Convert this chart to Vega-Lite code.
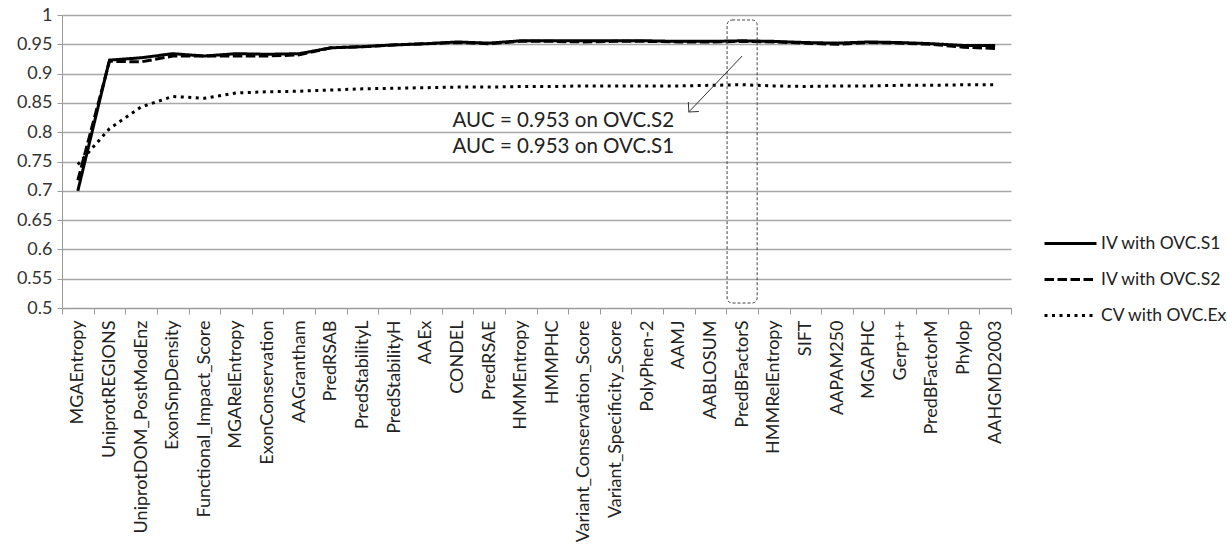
{
  "$schema": "https://vega.github.io/schema/vega-lite/v6.json",
  "width": 949,
  "height": 293,
  "autosize": {"type": "none"},
  "padding": {"left": 62, "top": 15, "right": 216, "bottom": 244},
  "background": "white",
  "config": {
    "view": {"stroke": null},
    "font": "Lato",
    "axis": {"labelFont": "Lato", "labelColor": "#222", "titleColor": "#222"},
    "axisY": {"labelOverlap": false, "grid": true, "gridColor": "#a8a8a8", "gridWidth": 1.3, "labelFontSize": 18, "labelColor": "#333", "labelPadding": 5, "tickSize": 5, "tickColor": "#9a9a9a", "domainColor": "#9a9a9a"},
    "legend": {"labelFont": "Lato", "labelColor": "#222"}
  },
  "datasets": {
    "lines": [
      {"feature": "MGAEntropy", "series": "IV with OVC.S1", "auc": 0.700},
      {"feature": "UniprotREGIONS", "series": "IV with OVC.S1", "auc": 0.923},
      {"feature": "UniprotDOM_PostModEnz", "series": "IV with OVC.S1", "auc": 0.927},
      {"feature": "ExonSnpDensity", "series": "IV with OVC.S1", "auc": 0.934},
      {"feature": "Functional_Impact_Score", "series": "IV with OVC.S1", "auc": 0.930},
      {"feature": "MGARelEntropy", "series": "IV with OVC.S1", "auc": 0.934},
      {"feature": "ExonConservation", "series": "IV with OVC.S1", "auc": 0.933},
      {"feature": "AAGrantham", "series": "IV with OVC.S1", "auc": 0.934},
      {"feature": "PredRSAB", "series": "IV with OVC.S1", "auc": 0.944},
      {"feature": "PredStabilityL", "series": "IV with OVC.S1", "auc": 0.946},
      {"feature": "PredStabilityH", "series": "IV with OVC.S1", "auc": 0.949},
      {"feature": "AAEx", "series": "IV with OVC.S1", "auc": 0.951},
      {"feature": "CONDEL", "series": "IV with OVC.S1", "auc": 0.954},
      {"feature": "PredRSAE", "series": "IV with OVC.S1", "auc": 0.952},
      {"feature": "HMMEntropy", "series": "IV with OVC.S1", "auc": 0.956},
      {"feature": "HMMPHC", "series": "IV with OVC.S1", "auc": 0.956},
      {"feature": "Variant_Conservation_Score", "series": "IV with OVC.S1", "auc": 0.956},
      {"feature": "Variant_Specificity_Score", "series": "IV with OVC.S1", "auc": 0.956},
      {"feature": "PolyPhen-2", "series": "IV with OVC.S1", "auc": 0.956},
      {"feature": "AAMJ", "series": "IV with OVC.S1", "auc": 0.955},
      {"feature": "AABLOSUM", "series": "IV with OVC.S1", "auc": 0.955},
      {"feature": "PredBFactorS", "series": "IV with OVC.S1", "auc": 0.956},
      {"feature": "HMMRelEntropy", "series": "IV with OVC.S1", "auc": 0.955},
      {"feature": "SIFT", "series": "IV with OVC.S1", "auc": 0.953},
      {"feature": "AAPAM250", "series": "IV with OVC.S1", "auc": 0.952},
      {"feature": "MGAPHC", "series": "IV with OVC.S1", "auc": 0.954},
      {"feature": "Gerp++", "series": "IV with OVC.S1", "auc": 0.953},
      {"feature": "PredBFactorM", "series": "IV with OVC.S1", "auc": 0.951},
      {"feature": "Phylop", "series": "IV with OVC.S1", "auc": 0.948},
      {"feature": "AAHGMD2003", "series": "IV with OVC.S1", "auc": 0.948},
      {"feature": "MGAEntropy", "series": "IV with OVC.S2", "auc": 0.718},
      {"feature": "UniprotREGIONS", "series": "IV with OVC.S2", "auc": 0.921},
      {"feature": "UniprotDOM_PostModEnz", "series": "IV with OVC.S2", "auc": 0.920},
      {"feature": "ExonSnpDensity", "series": "IV with OVC.S2", "auc": 0.930},
      {"feature": "Functional_Impact_Score", "series": "IV with OVC.S2", "auc": 0.930},
      {"feature": "MGARelEntropy", "series": "IV with OVC.S2", "auc": 0.930},
      {"feature": "ExonConservation", "series": "IV with OVC.S2", "auc": 0.930},
      {"feature": "AAGrantham", "series": "IV with OVC.S2", "auc": 0.932},
      {"feature": "PredRSAB", "series": "IV with OVC.S2", "auc": 0.944},
      {"feature": "PredStabilityL", "series": "IV with OVC.S2", "auc": 0.946},
      {"feature": "PredStabilityH", "series": "IV with OVC.S2", "auc": 0.949},
      {"feature": "AAEx", "series": "IV with OVC.S2", "auc": 0.951},
      {"feature": "CONDEL", "series": "IV with OVC.S2", "auc": 0.953},
      {"feature": "PredRSAE", "series": "IV with OVC.S2", "auc": 0.951},
      {"feature": "HMMEntropy", "series": "IV with OVC.S2", "auc": 0.955},
      {"feature": "HMMPHC", "series": "IV with OVC.S2", "auc": 0.955},
      {"feature": "Variant_Conservation_Score", "series": "IV with OVC.S2", "auc": 0.954},
      {"feature": "Variant_Specificity_Score", "series": "IV with OVC.S2", "auc": 0.955},
      {"feature": "PolyPhen-2", "series": "IV with OVC.S2", "auc": 0.955},
      {"feature": "AAMJ", "series": "IV with OVC.S2", "auc": 0.954},
      {"feature": "AABLOSUM", "series": "IV with OVC.S2", "auc": 0.954},
      {"feature": "PredBFactorS", "series": "IV with OVC.S2", "auc": 0.955},
      {"feature": "HMMRelEntropy", "series": "IV with OVC.S2", "auc": 0.954},
      {"feature": "SIFT", "series": "IV with OVC.S2", "auc": 0.952},
      {"feature": "AAPAM250", "series": "IV with OVC.S2", "auc": 0.950},
      {"feature": "MGAPHC", "series": "IV with OVC.S2", "auc": 0.953},
      {"feature": "Gerp++", "series": "IV with OVC.S2", "auc": 0.952},
      {"feature": "PredBFactorM", "series": "IV with OVC.S2", "auc": 0.950},
      {"feature": "Phylop", "series": "IV with OVC.S2", "auc": 0.945},
      {"feature": "AAHGMD2003", "series": "IV with OVC.S2", "auc": 0.943},
      {"feature": "MGAEntropy", "series": "CV with OVC.Ex", "auc": 0.745},
      {"feature": "UniprotREGIONS", "series": "CV with OVC.Ex", "auc": 0.806},
      {"feature": "UniprotDOM_PostModEnz", "series": "CV with OVC.Ex", "auc": 0.843},
      {"feature": "ExonSnpDensity", "series": "CV with OVC.Ex", "auc": 0.861},
      {"feature": "Functional_Impact_Score", "series": "CV with OVC.Ex", "auc": 0.858},
      {"feature": "MGARelEntropy", "series": "CV with OVC.Ex", "auc": 0.867},
      {"feature": "ExonConservation", "series": "CV with OVC.Ex", "auc": 0.869},
      {"feature": "AAGrantham", "series": "CV with OVC.Ex", "auc": 0.870},
      {"feature": "PredRSAB", "series": "CV with OVC.Ex", "auc": 0.872},
      {"feature": "PredStabilityL", "series": "CV with OVC.Ex", "auc": 0.874},
      {"feature": "PredStabilityH", "series": "CV with OVC.Ex", "auc": 0.875},
      {"feature": "AAEx", "series": "CV with OVC.Ex", "auc": 0.876},
      {"feature": "CONDEL", "series": "CV with OVC.Ex", "auc": 0.877},
      {"feature": "PredRSAE", "series": "CV with OVC.Ex", "auc": 0.877},
      {"feature": "HMMEntropy", "series": "CV with OVC.Ex", "auc": 0.878},
      {"feature": "HMMPHC", "series": "CV with OVC.Ex", "auc": 0.878},
      {"feature": "Variant_Conservation_Score", "series": "CV with OVC.Ex", "auc": 0.879},
      {"feature": "Variant_Specificity_Score", "series": "CV with OVC.Ex", "auc": 0.879},
      {"feature": "PolyPhen-2", "series": "CV with OVC.Ex", "auc": 0.879},
      {"feature": "AAMJ", "series": "CV with OVC.Ex", "auc": 0.879},
      {"feature": "AABLOSUM", "series": "CV with OVC.Ex", "auc": 0.880},
      {"feature": "PredBFactorS", "series": "CV with OVC.Ex", "auc": 0.881},
      {"feature": "HMMRelEntropy", "series": "CV with OVC.Ex", "auc": 0.879},
      {"feature": "SIFT", "series": "CV with OVC.Ex", "auc": 0.878},
      {"feature": "AAPAM250", "series": "CV with OVC.Ex", "auc": 0.879},
      {"feature": "MGAPHC", "series": "CV with OVC.Ex", "auc": 0.879},
      {"feature": "Gerp++", "series": "CV with OVC.Ex", "auc": 0.880},
      {"feature": "PredBFactorM", "series": "CV with OVC.Ex", "auc": 0.880},
      {"feature": "Phylop", "series": "CV with OVC.Ex", "auc": 0.881},
      {"feature": "AAHGMD2003", "series": "CV with OVC.Ex", "auc": 0.881}
    ],
    "box": [{"feature": "PredBFactorS", "lo": 0.5085, "hi": 0.9915}],
    "arrow": [{"from": "PredBFactorS", "to": "AAMJ", "y1": 0.930, "y2": 0.8345}],
    "notes": [
      {"feature": "CONDEL", "y": 0.809, "label": "AUC = 0.953 on OVC.S2"},
      {"feature": "CONDEL", "y": 0.7645, "label": "AUC = 0.953 on OVC.S1"}
    ]
  },
  "encoding": {
    "x": {
      "field": "feature",
      "type": "nominal",
      "sort": null,
      "scale": {
        "type": "band",
        "paddingInner": 0,
        "paddingOuter": 0,
        "domain": ["MGAEntropy", "UniprotREGIONS", "UniprotDOM_PostModEnz", "ExonSnpDensity", "Functional_Impact_Score", "MGARelEntropy", "ExonConservation", "AAGrantham", "PredRSAB", "PredStabilityL", "PredStabilityH", "AAEx", "CONDEL", "PredRSAE", "HMMEntropy", "HMMPHC", "Variant_Conservation_Score", "Variant_Specificity_Score", "PolyPhen-2", "AAMJ", "AABLOSUM", "PredBFactorS", "HMMRelEntropy", "SIFT", "AAPAM250", "MGAPHC", "Gerp++", "PredBFactorM", "Phylop", "AAHGMD2003"]
      },
      "axis": {
        "title": null,
        "labelAngle": -90,
        "labelFontSize": 18,
        "labelLimit": 400,
        "labelOverlap": false,
        "labelPadding": 6,
        "tickBand": "extent",
        "tickSize": 6,
        "tickColor": "#9a9a9a",
        "domainColor": "#9a9a9a",
        "grid": false
      }
    },
    "y": {
      "field": "auc",
      "type": "quantitative",
      "scale": {"domain": [0.5, 1], "nice": false, "zero": false},
      "axis": {
        "title": null,
        "values": [0.5, 0.55, 0.6, 0.65, 0.7, 0.75, 0.8, 0.85, 0.9, 0.95, 1],
        "tickCount": 30,
        "format": "~g"
      }
    }
  },
  "layer": [
    {
      "data": {"name": "lines"},
      "mark": {"type": "line", "stroke": "black", "strokeWidth": 3},
      "encoding": {
        "strokeDash": {
          "field": "series",
          "type": "nominal",
          "scale": {
            "domain": ["IV with OVC.S1", "IV with OVC.S2", "CV with OVC.Ex"],
            "range": [[1, 0], [9.5, 3.5], [3, 4.5]]
          },
          "legend": {
            "title": null,
            "orient": "none",
            "legendX": 981,
            "legendY": 201,
            "padding": 0,
            "symbolType": "stroke",
            "symbolSize": 2704,
            "symbolStrokeWidth": 3,
            "symbolStrokeColor": "black",
            "labelFontSize": 17.5,
            "labelOffset": 3,
            "rowPadding": -19
          }
        },
        "order": {"value": 0}
      }
    },
    {
      "data": {"name": "box"},
      "mark": {"type": "rect", "width": {"band": 0.95}, "fill": null, "fillOpacity": 0, "stroke": "#444", "strokeWidth": 1, "strokeDash": [3, 2], "cornerRadius": 5},
      "encoding": {
        "y": {"field": "lo", "type": "quantitative"},
        "y2": {"field": "hi"}
      }
    },
    {
      "data": {"name": "arrow"},
      "mark": {"type": "rule", "stroke": "#333", "strokeWidth": 1, "x2Offset": 10},
      "encoding": {
        "x": {"field": "from", "type": "nominal"},
        "x2": {"field": "to"},
        "y": {"field": "y1", "type": "quantitative"},
        "y2": {"field": "y2"}
      }
    },
    {
      "data": {"name": "arrow"},
      "mark": {"type": "point", "shape": "M-1,1L0,0L1,1", "size": 200, "angle": 222, "filled": false, "stroke": "#333", "strokeWidth": 1, "opacity": 1, "xOffset": 10},
      "encoding": {
        "x": {"field": "to", "type": "nominal"},
        "y": {"field": "y2", "type": "quantitative"}
      }
    },
    {
      "data": {"name": "notes"},
      "mark": {"type": "text", "align": "left", "baseline": "alphabetic", "fontSize": 20.5, "font": "Lato", "color": "#222", "xOffset": -5},
      "encoding": {
        "y": {"field": "y", "type": "quantitative"},
        "text": {"field": "label"}
      }
    }
  ]
}
